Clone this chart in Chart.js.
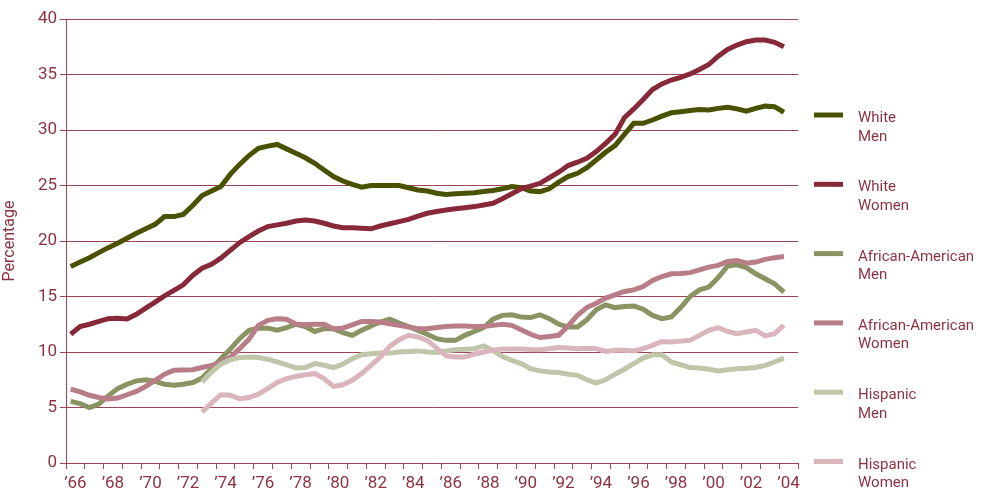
<!DOCTYPE html>
<html>
<head>
<meta charset="utf-8">
<script src="https://cdn.jsdelivr.net/npm/chart.js@4"></script>
<style>
  html, body { margin: 0; padding: 0; background: #fff; }
  #chartContainer { width: 987px; height: 501px; }
</style>
</head>
<body>
<div id="chartContainer">
  <canvas id="rateChart" width="987" height="501"></canvas>
</div>
<script>
// half-year periods, 1966.25 ... 2004.25
const periods = [];
for (let t = 1966.25; t <= 2004.25; t += 0.5) periods.push(t);

const yearLabels = ['\u201966', '\u201968', '\u201970', '\u201972', '\u201974', '\u201976', '\u201978', '\u201980', '\u201982', '\u201984',
  '\u201986', '\u201988', '\u201990', '\u201992', '\u201994', '\u201996', '\u201998', '\u201900', '\u201902', '\u201904'];

const seriesNames = [['White', 'Men'], ['White', 'Women'], ['African-American', 'Men'], ['African-American', 'Women'], ['Hispanic', 'Men'], ['Hispanic', 'Women']];

const whiteMen = [17.7, 18.1, 18.5, 18.95, 19.4, 19.8, 20.25, 20.7, 21.1, 21.5,
  22.2, 22.2, 22.4, 23.2, 24.1, 24.5, 24.9, 26.0, 26.9, 27.7,
  28.35, 28.55, 28.7, 28.3, 27.9, 27.5, 27.0, 26.4, 25.8, 25.4,
  25.1, 24.85, 25.0, 25.0, 25.0, 25.0, 24.8, 24.6, 24.5, 24.3,
  24.2, 24.25, 24.3, 24.35, 24.45, 24.55, 24.7, 24.9, 24.8, 24.5,
  24.45, 24.7, 25.3, 25.8, 26.1, 26.6, 27.3, 28.0, 28.6, 29.6,
  30.6, 30.6, 30.9, 31.25, 31.55, 31.65, 31.75, 31.85, 31.8, 31.95,
  32.05, 31.9, 31.7, 31.95, 32.15, 32.1, 31.6];

const whiteWomen = [11.6, 12.3, 12.5, 12.75, 13.0, 13.05, 12.97, 13.4, 13.95, 14.5,
  15.05, 15.55, 16.05, 16.9, 17.55, 17.9, 18.45, 19.15, 19.85, 20.4,
  20.9, 21.3, 21.45, 21.6, 21.8, 21.9, 21.8, 21.6, 21.35, 21.2,
  21.2, 21.15, 21.1, 21.35, 21.55, 21.75, 21.95, 22.25, 22.5, 22.65,
  22.8, 22.9, 23.0, 23.1, 23.25, 23.4, 23.8, 24.25, 24.7, 24.95,
  25.2, 25.7, 26.2, 26.8, 27.1, 27.45, 28.05, 28.8, 29.6, 31.1,
  31.9, 32.75, 33.65, 34.15, 34.5, 34.75, 35.05, 35.45, 35.9, 36.65,
  37.25, 37.65, 37.95, 38.1, 38.1, 37.9, 37.5];

const blackMen = [5.55, 5.35, 5.0, 5.3, 6.05, 6.7, 7.1, 7.4, 7.5, 7.35,
  7.1, 7.0, 7.1, 7.25, 7.65, 8.5, 9.4, 10.25, 11.2, 11.95,
  12.15, 12.15, 11.97, 12.2, 12.5, 12.3, 11.85, 12.1, 12.1, 11.75,
  11.5, 11.95, 12.35, 12.7, 12.95, 12.6, 12.3, 11.95, 11.6, 11.2,
  11.05, 11.05, 11.5, 11.85, 12.2, 12.95, 13.3, 13.35, 13.15, 13.1,
  13.35, 13.0, 12.5, 12.25, 12.25, 12.9, 13.8, 14.25, 14.0, 14.1,
  14.15, 13.85, 13.3, 13.0, 13.15, 14.0, 15.0, 15.6, 15.85, 16.7,
  17.75, 17.85, 17.6, 17.05, 16.6, 16.15, 15.4];

const blackWomen = [6.65, 6.4, 6.1, 5.9, 5.77, 5.85, 6.15, 6.45, 6.9, 7.45,
  8.0, 8.35, 8.37, 8.4, 8.6, 8.8, 9.05, 9.5, 10.3, 11.15,
  12.4, 12.85, 13.0, 12.95, 12.5, 12.45, 12.5, 12.5, 12.1, 12.15,
  12.45, 12.75, 12.75, 12.7, 12.55, 12.4, 12.25, 12.1, 12.1, 12.2,
  12.3, 12.35, 12.35, 12.3, 12.3, 12.4, 12.5, 12.4, 12.0, 11.6,
  11.3, 11.4, 11.5, 12.35, 13.3, 14.0, 14.4, 14.85, 15.15, 15.45,
  15.6, 15.9, 16.45, 16.8, 17.05, 17.07, 17.15, 17.4, 17.65, 17.8,
  18.15, 18.25, 18.0, 18.1, 18.35, 18.5, 18.6];

const hispanicMen = [null, null, null, null, null, null, null, null, null, null,
  null, null, null, null, 7.3, 8.2, 8.9, 9.3, 9.5, 9.55,
  9.5, 9.35, 9.1, 8.85, 8.55, 8.6, 8.95, 8.8, 8.6, 8.9,
  9.4, 9.75, 9.85, 9.9, 9.9, 10.0, 10.05, 10.1, 10.0, 9.95,
  10.1, 10.2, 10.25, 10.3, 10.55, 10.15, 9.6, 9.25, 8.95, 8.5,
  8.3, 8.2, 8.15, 8.0, 7.9, 7.5, 7.2, 7.5, 8.0, 8.45,
  8.95, 9.45, 9.75, 9.76, 9.1, 8.85, 8.6, 8.55, 8.45, 8.3,
  8.4, 8.5, 8.53, 8.6, 8.8, 9.1, 9.45];

const hispanicWomen = [null, null, null, null, null, null, null, null, null, null,
  null, null, null, null, 4.6, 5.4, 6.15, 6.1, 5.8, 5.9,
  6.2, 6.7, 7.25, 7.6, 7.8, 7.95, 8.05, 7.6, 6.9, 7.05,
  7.45, 8.05, 8.8, 9.55, 10.5, 11.1, 11.5, 11.35, 11.05, 10.35,
  9.65, 9.55, 9.55, 9.8, 10.0, 10.15, 10.27, 10.27, 10.27, 10.22,
  10.2, 10.3, 10.4, 10.35, 10.3, 10.33, 10.3, 10.05, 10.15, 10.15,
  10.1, 10.3, 10.6, 10.95, 10.9, 10.98, 11.05, 11.5, 11.95, 12.2,
  11.85, 11.65, 11.8, 11.95, 11.45, 11.65, 12.4];

const allSeries = [whiteMen, whiteWomen, blackMen, blackWomen, hispanicMen, hispanicWomen];
const lineColors = ['#4a5200', '#88293a', '#8a9462', '#b97d88', '#c0c6a9', '#dbb5bc'];

const maroon = '#8c3343';
const gridMaroon = '#9c4655';
const fontFamily = 'Roboto, sans-serif';

// right-hand legend with two-line labels
const sideLegend = {
    id: 'sideLegend',
    afterDraw(chart) {
        const ctx = chart.ctx;
        ctx.save();
        chart.data.datasets.forEach((ds, i) => {
            const y = 115 + i * 69.3;
            ctx.strokeStyle = ds.borderColor;
            ctx.lineWidth = 5;
            ctx.beginPath();
            ctx.moveTo(814, y);
            ctx.lineTo(843, y);
            ctx.stroke();
            ctx.fillStyle = maroon;
            ctx.font = '15px ' + fontFamily;
            ctx.textBaseline = 'alphabetic';
            ctx.fillText(seriesNames[i][0], 858, y + 7);
            ctx.fillText(seriesNames[i][1], 858, y + 25.5);
        });
        ctx.restore();
    }
};

const ctx = document.getElementById('rateChart').getContext('2d');
new Chart(ctx, {
    type: 'line',
    data: {
        datasets: allSeries.map((vals, i) => ({
            label: seriesNames[i].join(' '),
            data: periods.map((t, j) => ({ x: t, y: vals[j] })),
            borderColor: lineColors[i],
            backgroundColor: lineColors[i],
            borderWidth: 5,
            pointRadius: 0,
            tension: 0,
            fill: false,
            order: 6 - i,
        })),
    },
    options: {
        responsive: false,
        animation: false,
        layout: { padding: { left: 0, right: 189, top: 19, bottom: 0 } },
        plugins: {
            legend: { display: false },
            tooltip: { enabled: false },
        },
        scales: {
            x: {
                type: 'linear',
                min: 1966,
                max: 2005,
                afterBuildTicks: (scale) => {
                    const ticks = [];
                    for (let v = 1966; v <= 2005; v += 0.5) ticks.push({ value: v });
                    scale.ticks = ticks;
                },
                afterFit: (scale) => { scale.height = 38; },
                grid: {
                    drawOnChartArea: false,
                    tickLength: 6,
                    tickColor: (c) => Number.isInteger(c.tick.value) ? gridMaroon : 'rgba(0,0,0,0)',
                },
                border: { color: gridMaroon, width: 1 },
                ticks: {
                    autoSkip: false,
                    maxRotation: 0,
                    padding: 5,
                    color: maroon,
                    font: { family: fontFamily, size: 17 },
                    callback: (value) => {
                        const y = value - 0.5;
                        if (Number.isInteger(y) && y % 2 === 0) return yearLabels[(y - 1966) / 2];
                        return '';
                    },
                },
            },
            y: {
                min: 0,
                max: 40,
                afterFit: (scale) => { scale.width = 66; },
                grid: { color: gridMaroon, lineWidth: 1, tickLength: 6 },
                border: { color: gridMaroon, width: 1 },
                ticks: {
                    stepSize: 5,
                    padding: 3,
                    color: maroon,
                    font: { family: fontFamily, size: 17 },
                },
                title: {
                    display: true,
                    text: 'Percentage',
                    color: maroon,
                    font: { family: fontFamily, size: 16 },
                    padding: { top: 0, bottom: 0 },
                },
            },
        },
    },
    plugins: [sideLegend],
});
</script>
</body>
</html>
